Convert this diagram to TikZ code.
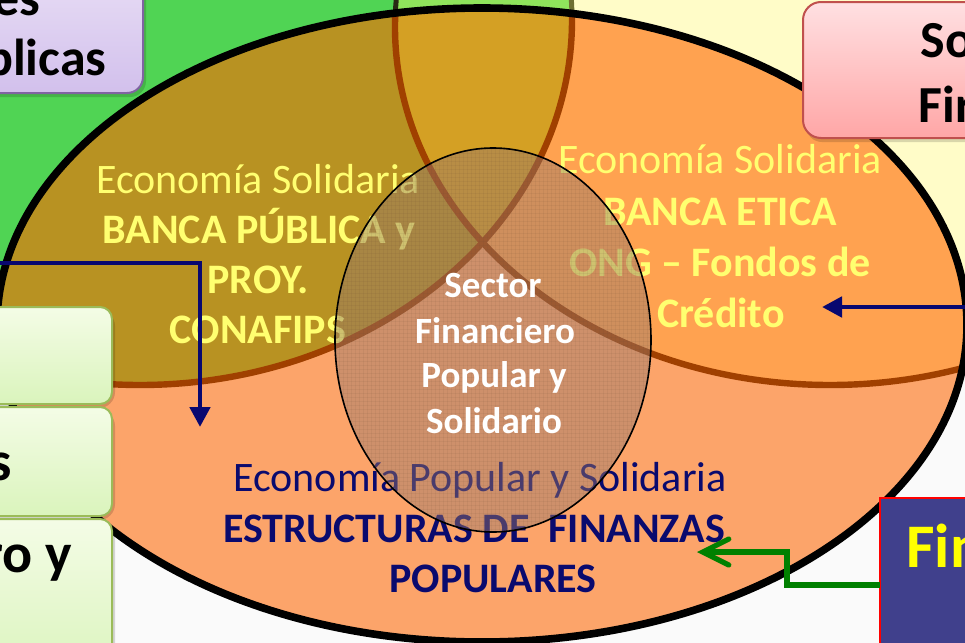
\documentclass[tikz,border=0pt]{standalone}
\usepackage{fontspec}
\setmainfont{Carlito}
\usetikzlibrary{arrows.meta}
\definecolor{bgwhite}{RGB}{250,250,250}
\definecolor{cgreen}{RGB}{80,212,84}
\definecolor{cyellow}{RGB}{255,252,200}
\definecolor{clgreen}{RGB}{143,228,92}
\definecolor{colive}{RGB}{184,146,34}
\definecolor{cgold}{RGB}{212,160,36}
\definecolor{corange}{RGB}{255,162,80}
\definecolor{csalmon}{RGB}{252,164,106}
\definecolor{cbrown}{RGB}{160,64,0}
\definecolor{tyellow}{RGB}{255,255,112}
\definecolor{tnavy}{RGB}{10,10,110}
\definecolor{anavy}{RGB}{8,8,112}
\definecolor{agreen}{RGB}{0,128,0}
\definecolor{boxblue}{RGB}{64,64,140}
\definecolor{ovcolor}{RGB}{150,120,110}
\definecolor{weavecol}{RGB}{100,70,50}
\definecolor{purpleT}{RGB}{234,224,246}
\definecolor{purpleB}{RGB}{210,192,236}
\definecolor{purpleD}{RGB}{128,100,162}
\definecolor{pinkT}{RGB}{255,224,226}
\definecolor{pinkB}{RGB}{255,166,166}
\definecolor{pinkD}{RGB}{192,80,77}
\definecolor{lgT}{RGB}{244,252,230}
\definecolor{lgB}{RGB}{218,244,188}
\definecolor{lgD}{RGB}{155,187,89}
\def\LCpath{(140,-20) ellipse [x radius=432, y radius=365]}
\def\RCpath{(830,-27) ellipse [x radius=435, y radius=358]}
\def\BEpath{(482,-325) ellipse [x radius=485, y radius=317]}
\def\CEpath{(493,-340) ellipse [x radius=158, y radius=192]}
\tikzset{
  ytxt/.style={text=tyellow, inner sep=0, anchor=base, font=\fontsize{21}{25}\selectfont},
  ytxtb/.style={text=tyellow, inner sep=0, anchor=base, font=\fontsize{21}{25}\selectfont\bfseries},
  ntxt/.style={text=tnavy, inner sep=0, anchor=base, font=\fontsize{21}{25}\selectfont},
  ntxtb/.style={text=tnavy, inner sep=0, anchor=base, font=\fontsize{21}{25}\selectfont\bfseries},
  wtxt/.style={text=white, inner sep=0, anchor=base, font=\fontsize{18.5}{22}\selectfont\bfseries},
  boxtxt/.style={text=black, inner sep=0, font=\fontsize{#1}{#1}\selectfont\bfseries},
  shadowbox/.style={fill=black, fill opacity=0.15, rounded corners=8pt},
  navyarrow/.style={draw=anavy, line width=2.4pt, -{Triangle[length=10pt,width=10pt]}},
  greenarrow/.style={draw=agreen, line width=2.6pt, -{Straight Barb[length=13pt,width=13pt,line cap=round]}},
  weaveline/.style={draw=weavecol, line width=0.5pt, draw opacity=0.08},
}
\begin{document}
\begin{tikzpicture}[x=0.5pt,y=0.5pt]
\useasboundingbox (0,0) rectangle (965,-643);
\clip (0,0) rectangle (965,-643);
% background
\fill[bgwhite] (0,0) rectangle (965,-643);
\fill[cgreen] \LCpath;
\fill[cyellow] \RCpath;
\begin{scope}
  \clip \LCpath;
  \fill[clgreen] \RCpath;
\end{scope}
\draw[line width=2.5pt, draw={rgb,255:red,110;green,110;blue,50}] \LCpath;
\draw[line width=2.5pt, draw={rgb,255:red,40;green,40;blue,20}] \RCpath;
% big ellipse regions
\begin{scope}
  \clip \BEpath;
  \fill[csalmon] (0,0) rectangle (965,-643);
  \fill[colive] \LCpath;
  \fill[corange] \RCpath;
  \begin{scope}
    \clip \LCpath;
    \fill[cgold] \RCpath;
  \end{scope}
  \draw[line width=3.2pt, cbrown] \LCpath;
  \draw[line width=3.2pt, cbrown] \RCpath;
\end{scope}
\draw[line width=3.8pt, black] \BEpath;
% texts in the three regions
\node[ytxt]  (l1) at (258,-193) {Economía Solidaria};
\node[ytxtb] (l2) at (259,-243) {BANCA PÚBLICA y};
\node[ytxtb] (l3) at (258,-293) {PROY.};
\node[ytxtb] (l4) at (258,-343) {CONAFIPS};
\node[ytxt]  (r1) at (720,-173) {Economía Solidaria};
\node[ytxtb] (r2) at (720,-225) {BANCA ETICA};
\node[ytxtb] (r3) at (720,-276) {ONG – Fondos de};
\node[ytxtb] (r4) at (721,-327) {Crédito};
\node[ntxt]  (b1) at (480,-491) {Economía Popular y Solidaria};
\node[ntxtb] (b2) at (474,-542) {ESTRUCTURAS DE\ \ FINANZAS};
\node[ntxtb] (b3) at (493,-592) {POPULARES};
% central ellipse (semi-transparent canvas)
\fill[fill=ovcolor, fill opacity=0.45] \CEpath;
\begin{scope}
  \clip \CEpath;
  \foreach \k in {0,4,...,330} {
    \draw[weaveline] (335+\k,-145) -- (335+\k,-535);
  }
  \foreach \k in {0,4,...,390} {
    \draw[weaveline] (333,-145-\k) -- (655,-145-\k);
  }
\end{scope}
\draw[line width=0.8pt, black] \CEpath;
\node[wtxt] (c1) at (493,-297) {Sector};
\node[wtxt] (c2) at (495,-343) {Financiero};
\node[wtxt] (c3) at (494,-387) {Popular y};
\node[wtxt] (c4) at (494,-433) {Solidario};
% purple box top-left
\fill[shadowbox] (-30,40) rectangle (146,-97);
\draw[line width=1pt, draw=purpleD, top color=purpleT, bottom color=purpleB, rounded corners=8pt] (-30,40) rectangle (143,-93);
\node[boxtxt=26, anchor=base east] (p1) at (41,-15) {es};
\node[boxtxt=26, anchor=base east] (p2) at (107,-75) {blicas};
% pink box top-right
\fill[shadowbox] (806,-5) rectangle (1000,-142);
\draw[line width=1pt, draw=pinkD, top color=pinkT, bottom color=pinkB, rounded corners=9pt] (803,-2) rectangle (1000,-138);
\node[boxtxt=26, anchor=base west] (k1) at (920,-57) {So};
\node[boxtxt=26, anchor=base west] (k2) at (918,-122) {Fir};
% light green boxes left
\fill[shadowbox] (-30,-310) rectangle (115,-408);
\draw[line width=1pt, draw=lgD, top color=lgT, bottom color=lgB, rounded corners=6pt] (-30,-307) rectangle (112,-404);
\fill[shadowbox] (-30,-410) rectangle (115,-520);
\draw[line width=1pt, draw=lgD, top color=lgT, bottom color=lgB, rounded corners=6pt] (-30,-407) rectangle (112,-516);
\fill[shadowbox] (-30,-522) rectangle (115,-680);
\draw[line width=1pt, draw=lgD, top color=lgT, bottom color=lgB, rounded corners=6pt] (-30,-519) rectangle (112,-680);
\node[boxtxt=28, anchor=base east] (g2) at (12,-480) {s};
\node[boxtxt=28, anchor=base east] (g3) at (72,-572) {ro y};
% blue box bottom-right
\draw[line width=0.6pt, draw=red, fill=boxblue] (880,-498) rectangle (1000,-680);
\node[text={rgb,255:red,255;green,255;blue,0}, inner sep=0, anchor=base west, font=\fontsize{31}{31}\selectfont\bfseries] (f1) at (906,-567) {Fin};
\coordinate (bluebox) at (880,-585);
% arrows
\coordinate (a1s) at (-5,-263);
\coordinate (a1e) at (200,-427);
\draw[navyarrow] (a1s) -| (a1e);
\coordinate (a2s) at (970,-307);
\coordinate (a2e) at (822,-307);
\draw[navyarrow] (a2s) -- (a2e);
\coordinate (a3m) at (787,-552);
\coordinate (a3e) at (697,-552);
\draw[greenarrow] (bluebox) -| (a3m) -- (a3e);
\end{tikzpicture}
\end{document}
